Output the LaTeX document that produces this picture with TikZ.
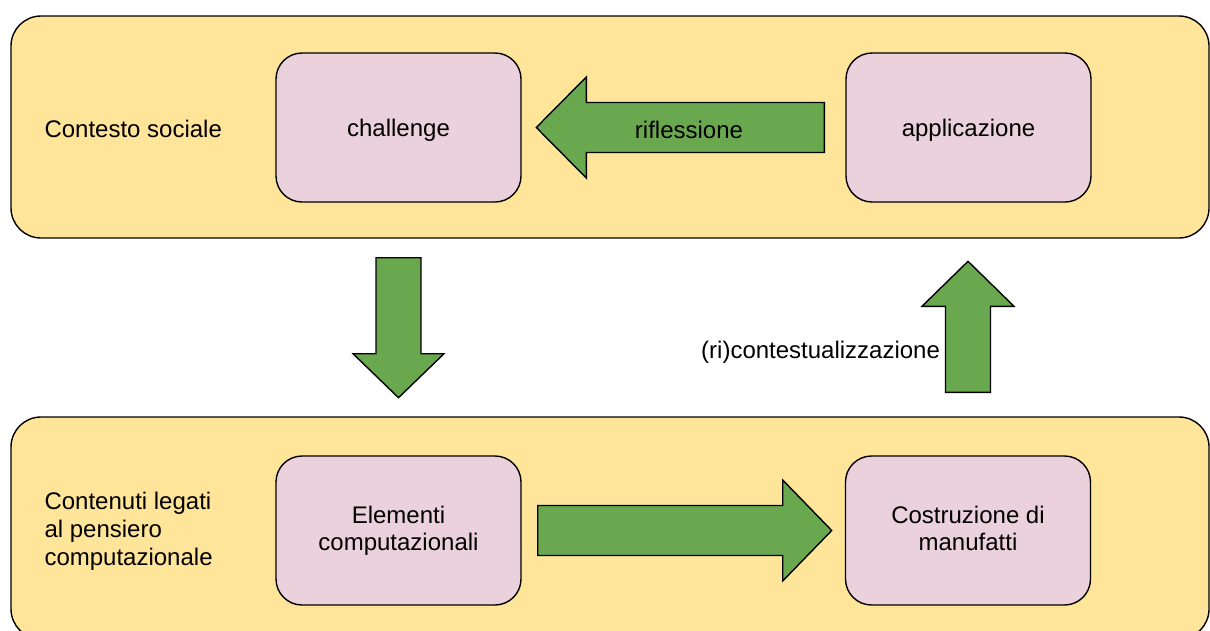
\documentclass[tikz,border=0pt]{standalone}
\usepackage{fontspec}
\setmainfont{Liberation Sans}
\usetikzlibrary{positioning,calc}
\definecolor{bandyellow}{RGB}{255,229,153}
\definecolor{boxpink}{RGB}{234,209,220}
\definecolor{arrowgreen}{RGB}{106,168,79}
\tikzset{
  % testo
  lbl/.style={font=\fontsize{24}{28}\selectfont, text=black},
  % fascia di sfondo
  band/.style={
    draw=black,
    line width=1.4pt,
    fill=bandyellow,
    rounded corners=30pt,
    minimum width=1198pt,
    minimum height=222pt
  },
  % riquadri interni
  stepbox/.style={
    font=\fontsize{24}{27}\selectfont,
    draw=black,
    line width=1.4pt,
    fill=boxpink,
    rounded corners=26pt,
    minimum width=245pt,
    minimum height=149pt,
    align=center,
    text depth=5.1pt,
    execute at begin node={\rule{0pt}{23.5pt}}
  },
  % frecce piene
  fatarrow/.style={draw=black, line width=1.4pt, fill=arrowgreen, line join=miter},
  pics/blockarrow/.style n args={4}{code={
    \draw[fatarrow] (0,{-#2/2}) -- ({#1-#4},{-#2/2}) -- ({#1-#4},{-#3/2}) -- (#1,0)
      -- ({#1-#4},{#3/2}) -- ({#1-#4},{#2/2}) -- (0,{#2/2}) -- cycle;
  }},
}

\begin{document}
\begin{tikzpicture}[x=1pt, y=-1pt]
    \useasboundingbox (0,0) rectangle (1210,630);
    \clip (0,0) rectangle (1210,630);

    % Fasce
    \node[band] (sociale) at (610,127) {};
    \node[band] (contenuti) at (610,528) {};
    \node[lbl, anchor=west] (socialelbl) at (41,129) {Contesto sociale};
    \node[lbl, anchor=west, align=left] (contenutilbl) at (41,531)
        {Contenuti legati\\al pensiero\\computazionale};

    % Riquadri
    \node[stepbox] (challenge) at (398.5,127.5) {challenge};
    \node[stepbox] (applicazione) at (968.5,127.5) {applicazione};
    \node[stepbox] (elementi) at (398.5,530.5) {Elementi\\computazionali};
    \node[stepbox] (costruzione) at (968,530.5) {Costruzione di\\manufatti};

    % Frecce
    \pic[rotate=180] at ([xshift=-21pt]applicazione.west) {blockarrow={288}{50}{101}{50}};
    \pic[rotate=-90] at ([yshift=-19pt]challenge |- sociale.south) {blockarrow={140}{45}{91}{44}};
    \pic[rotate=90] at ([yshift=24pt]costruzione |- contenuti.north) {blockarrow={131}{45}{92}{45}};
    \pic at ([xshift=16pt]elementi.east) {blockarrow={294}{50}{101}{49}};

    \node[lbl] (riflessione) at (689,130) {riflessione};
    \node[lbl, anchor=east] (ricontesto) at (943.5,352) {(ri)contestualizzazione};
\end{tikzpicture}
\end{document}
